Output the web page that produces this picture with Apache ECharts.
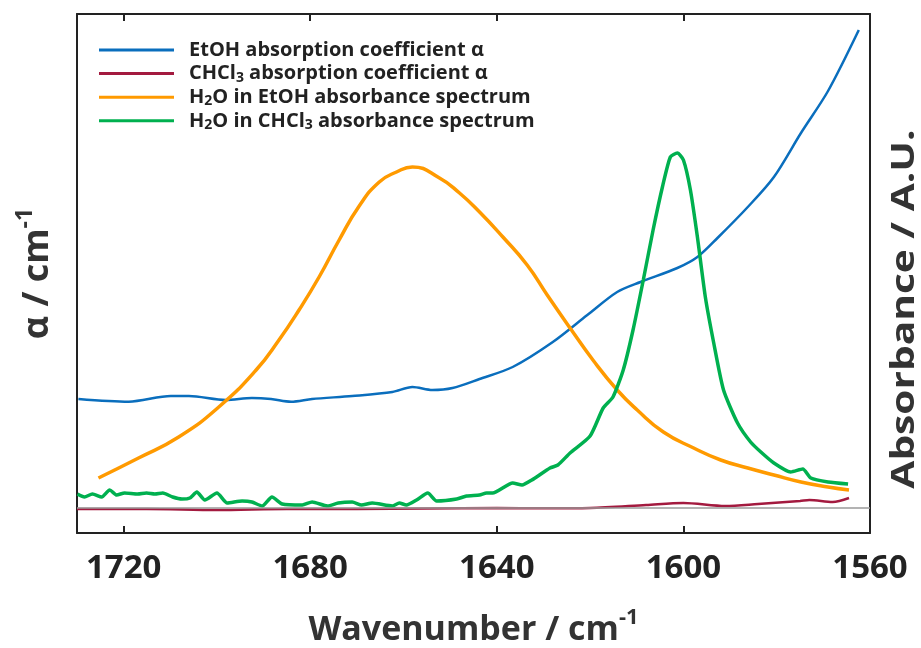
<!DOCTYPE html>
<html>
<head>
<meta charset="utf-8">
<script src="https://cdn.jsdelivr.net/npm/echarts@6/dist/echarts.min.js"></script>
<style>html,body{margin:0;padding:0;background:#fff}#c{width:921px;height:648px}</style>
</head>
<body>
<div id="c"></div>
<script>
// Wavenumber (cm^-1) and values (arbitrary units)
var blueX = [1729.7,1718.9,1709.9,1706.0,1698.1,1692.5,1688.4,1684.1,1679.6,1671.0,1662.4,1658.1,1653.8,1649.5,1643.7,1636.6,1628.0,1620.6,1614.2,1609.2,1601.3,1597.0,1592.7,1586.2,1580.6,1574.8,1569.0,1562.4];
var blueY = [1.09,1.063,1.12,1.12,1.08,1.10,1.09,1.063,1.09,1.12,1.16,1.21,1.18,1.20,1.29,1.41,1.66,1.93,2.16,2.26,2.40,2.51,2.70,3.01,3.31,3.75,4.17,4.78];

var redX = [1730,1715,1700,1685,1670,1655,1640,1630,1620,1608,1600,1591,1584,1575,1573,1568,1564.5];
var redY = [-0.01,-0.01,-0.02,-0.01,-0.01,-0.005,0.0,-0.003,0.0,0.03,0.05,0.02,0.04,0.07,0.08,0.06,0.10];

var orangeX = [1725.4,1716.8,1708.2,1699.6,1691.6,1686.7,1682.4,1678.1,1673.8,1669.5,1665.2,1661.5,1658.1,1652.3,1648.0,1643.7,1638.7,1633.5,1629.2,1624.3,1619.4,1614.2,1609.9,1604.3,1597.8,1592.0,1586.2,1580.6,1574.8,1569.0,1564.5];
var orangeY = [0.30,0.50,0.71,1.01,1.38,1.68,1.98,2.31,2.68,3.02,3.26,3.36,3.41,3.30,3.15,2.96,2.71,2.43,2.13,1.80,1.48,1.18,0.98,0.76,0.60,0.48,0.40,0.33,0.26,0.21,0.18];

var greenX = [1729.9,1728.4,1726.7,1724.7,1723.0,1721.5,1719.8,1717.0,1715.1,1713.3,1711.6,1709.5,1707.5,1705.8,1704.3,1702.6,1700.0,1697.8,1694.6,1692.5,1690.3,1688.2,1686.0,1681.7,1679.6,1676.3,1674.0,1671.0,1669.0,1666.7,1662.4,1660.9,1659.4,1657.2,1654.8,1652.9,1648.6,1646.5,1643.7,1642.2,1640.9,1636.6,1634.6,1632.5,1628.6,1626.9,1624.3,1620.0,1617.2,1615.1,1612.9,1610.8,1608.6,1606.5,1604.5,1602.8,1601.3,1600.0,1598.5,1597.0,1595.3,1593.5,1591.4,1588.4,1585.6,1583.4,1580.6,1577.0,1574.4,1572.7,1569.0,1564.7];
var greenY = [0.14,0.11,0.14,0.11,0.18,0.13,0.15,0.14,0.15,0.14,0.15,0.11,0.09,0.10,0.16,0.08,0.15,0.05,0.07,0.06,0.02,0.11,0.04,0.03,0.06,0.02,0.05,0.06,0.03,0.05,0.02,0.05,0.03,0.08,0.15,0.07,0.09,0.12,0.13,0.15,0.15,0.25,0.23,0.28,0.40,0.43,0.55,0.72,1.00,1.11,1.38,1.78,2.28,2.78,3.21,3.51,3.55,3.48,3.18,2.71,2.11,1.65,1.18,0.85,0.66,0.56,0.45,0.36,0.39,0.30,0.26,0.24];

var xTicks = [1560,1600,1640,1680,1720];
var legendNames = ['EtOH absorption coefficient α','CHCl3 absorption coefficient α','H2O in EtOH absorbance spectrum','H2O in CHCl3 absorbance spectrum'];
var legendRich = ['EtOH absorption coefficient α','CHCl{s|3} absorption coefficient α','H{s|2}O in EtOH absorbance spectrum','H{s|2}O in CHCl{s|3} absorbance spectrum'];
var rightName = 'Absorbance / A.U.';

function pairs(xs, ys){ return xs.map(function(x,i){return [x, ys[i]];}); }

var FONT = 'Open Sans';
var chart = echarts.init(document.getElementById('c'));
var xBase = {
  type:'value', min:1560, max:1730, interval:40, inverse:true,
  axisLine:{show:true, onZero:false, lineStyle:{color:'#222', width:2}},
  axisTick:{show:true, inside:true, length:7, lineStyle:{color:'#222', width:2}},
  splitLine:{show:false}
};
var yBase = {
  type:'value', min:-0.25, max:4.94,
  axisLine:{show:true, lineStyle:{color:'#222', width:2}},
  axisTick:{show:false}, axisLabel:{show:false}, splitLine:{show:false},
  nameLocation:'middle', nameRotate:90
};
var legends = legendNames.map(function(n, i){
  return {
    orient:'vertical', left:99, top:39 + i*23.6, padding:0, itemWidth:75, itemHeight:3, itemGap:0,
    icon:'rect', data:[n],
    formatter:function(name){ return legendRich[legendNames.indexOf(name)]; },
    textStyle:{fontFamily:FONT, fontSize:20, fontWeight:'bold', color:'#222', lineHeight:22, padding:[0,0,0,10],
      rich:{s:{fontFamily:FONT, fontSize:14, fontWeight:'bold', color:'#222', lineHeight:10, verticalAlign:'bottom'}}}
  };
});
chart.setOption({
  animation:false,
  backgroundColor:'#fff',
  textStyle:{fontFamily:FONT},
  grid:{left:77, right:51, top:14, bottom:115, containLabel:false, outerBoundsMode:'none'},
  legend: legends,
  xAxis:[
    Object.assign({}, xBase, {position:'bottom',
      axisLabel:{show:true, margin:19, fontFamily:FONT, fontSize:33, fontWeight:'bold', color:'#222',
        formatter:function(v){ return xTicks.indexOf(v)>=0 ? String(v) : ''; }},
      name:'{a|Wavenumber / cm}{s|-1}', nameLocation:'middle', nameGap:74,
      nameTextStyle:{rich:{
        a:{fontFamily:FONT, fontSize:34, fontWeight:'bold', color:'#333', lineHeight:40, verticalAlign:'bottom'},
        s:{fontFamily:FONT, fontSize:22, fontWeight:'bold', color:'#333', lineHeight:22, verticalAlign:'top'}}}
    }),
    Object.assign({}, xBase, {position:'top', axisLabel:{show:false}})
  ],
  yAxis:[
    Object.assign({}, yBase, {position:'left', name:'{a|α / cm}{s|-1}', nameGap:21,
      nameTextStyle:{rich:{
        a:{fontFamily:FONT, fontSize:36, fontWeight:'bold', color:'#333', lineHeight:42, verticalAlign:'bottom'},
        s:{fontFamily:FONT, fontSize:23, fontWeight:'bold', color:'#333', lineHeight:23, verticalAlign:'top'}}}}),
    Object.assign({}, yBase, {position:'right'})
  ],
  graphic:[{
    type:'text', x:905, y:309, rotation:Math.PI/2, scaleX:1.27, scaleY:1,
    style:{text:rightName, fontFamily:FONT, fontSize:32, fontWeight:'bold', fill:'#333', align:'center', verticalAlign:'middle'}
  }],
  series:[
    {name:legendNames[0], type:'line', data:pairs(blueX, blueY), showSymbol:false, smooth:0.3,
      lineStyle:{color:'#0A6EBD', width:2.5}, itemStyle:{color:'#0A6EBD'},
      markLine:{silent:true, symbol:'none', label:{show:false}, data:[{yAxis:0}],
        lineStyle:{color:'#9a9a9a', width:1.5, type:'solid'}}},
    {name:legendNames[1], type:'line', data:pairs(redX, redY), showSymbol:false, smooth:0.3,
      lineStyle:{color:'#A31A3F', width:2.5}, itemStyle:{color:'#A31A3F'}},
    {name:legendNames[2], type:'line', data:pairs(orangeX, orangeY), showSymbol:false, smooth:0.5,
      lineStyle:{color:'#FF9A00', width:3.5}, itemStyle:{color:'#FF9A00'}},
    {name:legendNames[3], type:'line', data:pairs(greenX, greenY), showSymbol:false, smooth:0.2,
      lineStyle:{color:'#00B04F', width:3.5}, itemStyle:{color:'#00B04F'}}
  ]
});
</script>
</body>
</html>
